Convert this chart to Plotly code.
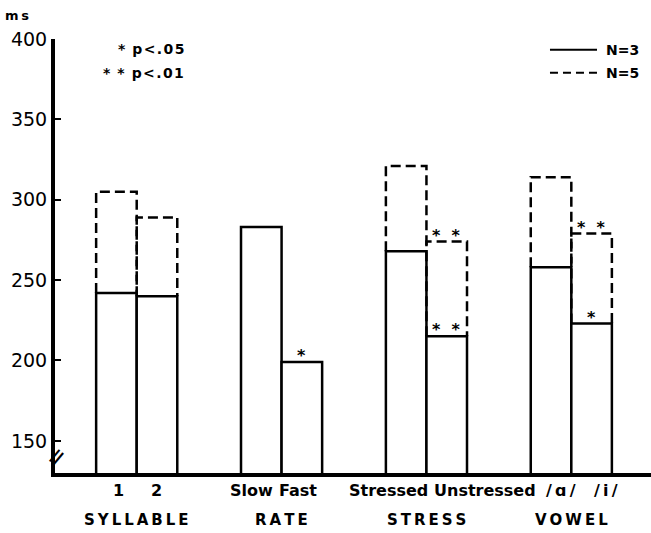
import plotly.graph_objects as go

# ---------------- data ----------------
groups = ["SYLLABLE", "RATE", "STRESS", "VOWEL"]
conditions = ["1", "2", "Slow", "Fast", "Stressed", "Unstressed", "/\u2009\u0251\u2009/", "/\u2009i\u2009/"]
group_index = [0, 0, 1, 1, 2, 2, 3, 3]
n3_ms = [242, 240, 283, 199, 268, 215, 258, 223]          # solid bars, N=3
n5_ms = [305, 289, None, None, 321, 274, 314, 279]        # dashed bars, N=5
sig_n3 = ["", "", "", "*", "", "*\u00a0\u00a0*", "", "*"]
sig_n5 = ["", "", "", "", "", "*\u00a0\u00a0*", "", "*\u00a0\u00a0*"]
y_ticks = [150, 200, 250, 300, 350, 400]
legend_labels = ["N=3", "N=5"]
p_labels = ["*\u2002p\u200a<\u200a.\u200a0\u200a5", "*\u2002*\u2002p\u200a<\u200a.\u200a0\u200a1"]

# ---------------- layout helpers ----------------
HALF = 0.14          # half bar width in group units
side = [-1, 1] * 4
bar_x = [g + s * HALF for g, s in zip(group_index, side)]
label_shift = [2, 0, -10, -4, -18, 38, 10, 14]

FONT = "DejaVu Sans"

fig = go.Figure()

# solid N=3 bars
fig.add_trace(go.Bar(
    x=bar_x, y=n3_ms, width=2 * HALF,
    marker=dict(color="white", line=dict(color="black", width=2.5)),
    showlegend=False, hoverinfo="skip",
))

# dashed N=5 outlines (the part above the solid bar)
dx, dy = [], []
for x, lo, hi in zip(bar_x, n3_ms, n5_ms):
    if hi is None:
        continue
    dx += [x - HALF, x - HALF, x + HALF, x + HALF, None]
    dy += [lo, hi, hi, lo, None]
fig.add_trace(go.Scatter(
    x=dx, y=dy, mode="lines",
    line=dict(color="black", width=2.5, dash="10px,5px"),
    showlegend=False, hoverinfo="skip",
))

annotations = []
sig_font = dict(family=FONT, size=16, color="black", weight="bold")
# significance markers
for x, v, s in zip(bar_x, n3_ms, sig_n3):
    if s:
        annotations.append(dict(x=x, y=v, xref="x", yref="y", text=s, showarrow=False,
                                yanchor="bottom", yshift=-5, font=sig_font))
for x, v, s in zip(bar_x, n5_ms, sig_n5):
    if s and v is not None:
        annotations.append(dict(x=x, y=v, xref="x", yref="y", text=s, showarrow=False,
                                yanchor="bottom", yshift=-5, font=sig_font))

# condition labels
for x, t, sh in zip(bar_x, conditions, label_shift):
    annotations.append(dict(x=x, y=0, xref="x", yref="paper", text=t, showarrow=False,
                            yanchor="top", yshift=-6, xshift=sh,
                            font=dict(family=FONT, size=16, color="black", weight="bold")))
# group labels
for g, t in enumerate(groups):
    annotations.append(dict(x=g, y=0, xref="x", yref="paper", text="\u2009".join(t), showarrow=False,
                            yanchor="top", yshift=-36,
                            font=dict(family=FONT, size=15, color="black", weight="bold")))

# ms unit label
annotations.append(dict(x=-0.064, y=1.055, xref="paper", yref="paper", text="m\u2009s",
                        showarrow=False, xanchor="center", yanchor="middle",
                        font=dict(family=FONT, size=13, color="black", weight="bold")))

# p-value key
for i, t in enumerate(p_labels):
    annotations.append(dict(x=0.22, y=0.977 - i * 0.055, xref="paper", yref="paper", text=t,
                            showarrow=False, xanchor="right", yanchor="middle",
                            font=dict(family=FONT, size=14, color="black", weight="bold")))

# N legend
shapes = []
for i, (t, dash) in enumerate(zip(legend_labels, ["solid", "8px,5px"])):
    yy = 0.975 - i * 0.053
    shapes.append(dict(type="line", xref="paper", yref="paper", x0=0.8305, x1=0.9094, y0=yy, y1=yy,
                       line=dict(color="black", width=2, dash=dash)))
    annotations.append(dict(x=0.921, y=yy, xref="paper", yref="paper", text=t, showarrow=False,
                            xanchor="left", yanchor="middle",
                            font=dict(family=FONT, size=14, color="black", weight="bold")))

# axis break mark
annotations.append(dict(x=0, y=140, xref="paper", yref="y", text="=", showarrow=False,
                        xanchor="center", yanchor="middle", xshift=1,
                        textangle=-50, font=dict(family=FONT, size=24, color="black")))

fig.update_layout(
    width=651, height=533,
    margin=dict(l=55, r=0, t=39, b=60),
    paper_bgcolor="white", plot_bgcolor="white",
    showlegend=False,
    annotations=annotations, shapes=shapes,
    xaxis=dict(range=[-0.564, 3.55], showline=True, linewidth=4, linecolor="black",
               showticklabels=False, ticks="", showgrid=False, zeroline=False, fixedrange=True),
    yaxis=dict(range=[130, 400], tickvals=y_ticks, showline=True, linewidth=4, linecolor="black",
               ticks="inside", ticklen=6, tickwidth=2, tickcolor="black",
               tickfont=dict(family=FONT, size=19, color="black"),
               showgrid=False, zeroline=False, fixedrange=True),
)

fig.write_html("out.html", config={"displayModeBar": False},
               post_script="document.body.style.margin='0';document.body.style.overflow='hidden';")
